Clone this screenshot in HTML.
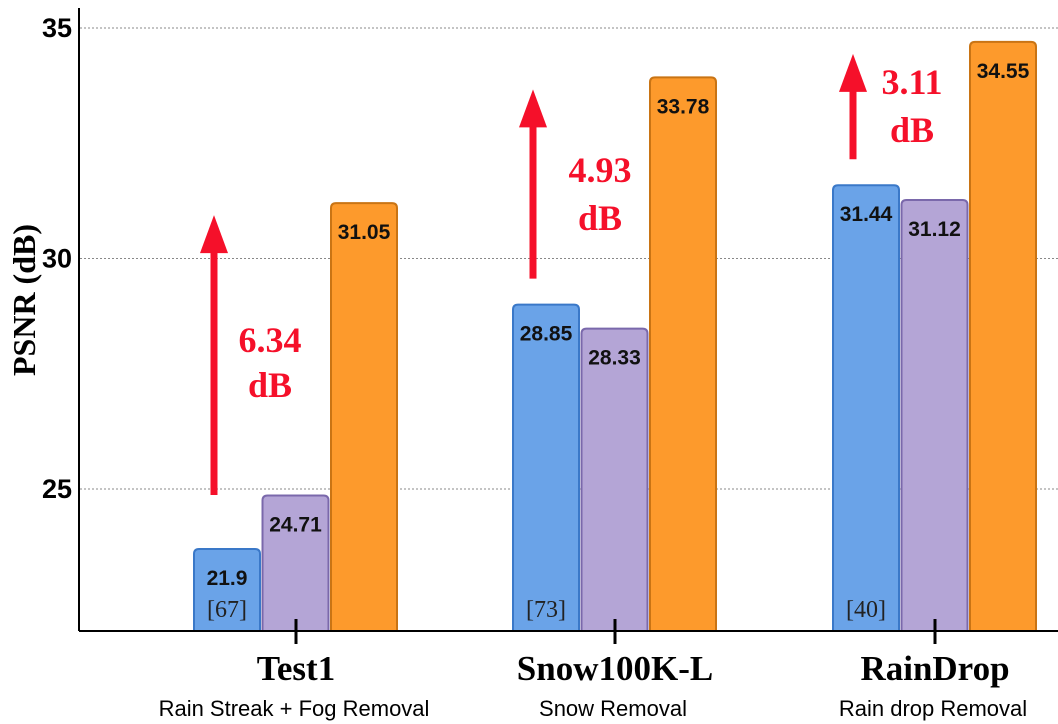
<!DOCTYPE html>
<html><head><meta charset="utf-8"><style>
html,body{margin:0;padding:0;background:#fff;width:1058px;height:724px;overflow:hidden}
svg{display:block}
</style></head><body>
<svg id="c" width="1058" height="724" xmlns="http://www.w3.org/2000/svg"></svg>
<script>
const categories=["Test1","Snow100K-L","RainDrop"];
const subtitles=["Rain Streak + Fog Removal","Snow Removal","Rain drop Removal"];
const seriesA=[21.9,28.85,31.44];
const seriesB=[24.71,28.33,31.12];
const seriesC=[31.05,33.78,34.55];
const refs=["[67]","[73]","[40]"];
const gains=["6.34","4.93","3.11"];
const yTicks=[25,30,35];
const NS="http://www.w3.org/2000/svg";
const svg=document.getElementById('c');
function mk(t,a,p){const e=document.createElementNS(NS,t);for(const k in a)e.setAttribute(k,a[k]);(p||svg).appendChild(e);return e;}
const base=631;
function y(v){return 489-(v-25)*46.1;}
function barTop(v){return Math.min(y(v+0.15),base-82);}
const centers=[296,615,935];
const bw=66,step=68.5;
yTicks.forEach(t=>{
 const g=mk('line',{x1:80,x2:1058,y1:y(t),y2:y(t),stroke:'#888','stroke-width':1,'stroke-dasharray':'2,2'});
 
 const tx=mk('text',{x:72,y:y(t)+9,'text-anchor':'end','font-family':'Liberation Sans, sans-serif','font-weight':'bold','font-size':27});
 tx.textContent=t;
});
const ya=mk('line',{x1:79,x2:79,y1:8,y2:base,stroke:'#000','stroke-width':2});

const yt=mk('text',{x:0,y:0,transform:'translate(35,300) rotate(-90)','text-anchor':'middle','font-family':'Liberation Serif, serif','font-weight':'bold','font-size':32});
yt.textContent='PSNR (dB)';
const series=[[seriesA,'#6aa3e8','#3a78c8','blue'],[seriesB,'#b4a5d6','#7a68ab','purple'],[seriesC,'#fd9a2c','#c97414','orange']];
const gainY=[[340,385],[170,218],[82,130]];
const gainX=[270,600,912];
categories.forEach((cat,i)=>{
 series.forEach((s,j)=>{
  const x=centers[i]-102+j*step, v=s[0][i], top=barTop(v);
  const r=mk('path',{d:`M${x},${base} V${top+5} Q${x},${top} ${x+5},${top} H${x+bw-5} Q${x+bw},${top} ${x+bw},${top+5} V${base}`,fill:s[1],stroke:s[2],'stroke-width':2});
  
  const t=mk('text',{x:x+bw/2,y:top+36,'text-anchor':'middle','font-family':'Liberation Sans, sans-serif','font-weight':'bold','font-size':21,fill:'#111'});
  t.textContent=v;
  if(j===0){const rt=mk('text',{x:x+bw/2,y:base-14,'text-anchor':'middle','font-family':'Liberation Serif, serif','font-size':24,fill:'#222'});
   rt.textContent=refs[i];}
 });
 const tk=mk('line',{x1:centers[i],x2:centers[i],y1:619,y2:644,stroke:'#000','stroke-width':3});
 
 const ct=mk('text',{x:centers[i],y:680,'text-anchor':'middle','font-family':'Liberation Serif, serif','font-weight':'bold','font-size':35});
 ct.textContent=cat;
 const st=mk('text',{x:centers[i]-2,y:716,'text-anchor':'middle','font-family':'Liberation Sans, sans-serif','font-size':22});
 st.textContent=subtitles[i];
 const ax=centers[i]-82, a1=barTop(seriesC[i])+12;
 const aStart=i===0?495:barTop(seriesA[i])-26;
 const sh=mk('line',{x1:ax,x2:ax,y1:aStart,y2:a1+35,stroke:'#f5102a','stroke-width':7});
 
 const hd=mk('polygon',{points:`${ax-14},${a1+38} ${ax+14},${a1+38} ${ax},${a1}`,fill:'#f5102a'});
 
 const g1=mk('text',{x:gainX[i],y:gainY[i][0]+12,'text-anchor':'middle','font-family':'Liberation Serif, serif','font-weight':'bold','font-size':36,fill:'#f5102a'});
 g1.textContent=gains[i];
 const g2=mk('text',{x:gainX[i],y:gainY[i][1]+12,'text-anchor':'middle','font-family':'Liberation Serif, serif','font-weight':'bold','font-size':36,fill:'#f5102a'});
 g2.textContent='dB';
});
const xa=mk('line',{x1:79,x2:1058,y1:base,y2:base,stroke:'#000','stroke-width':2});

</script>
</body></html>
